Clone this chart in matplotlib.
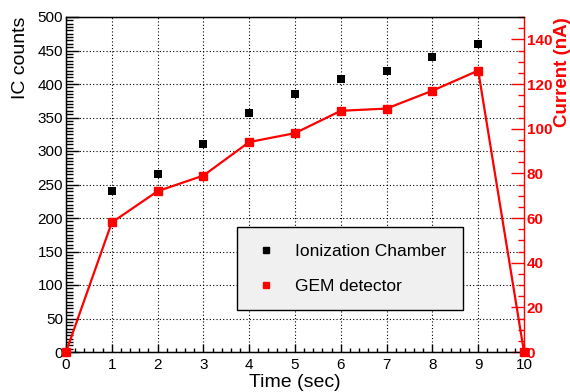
import numpy as np
import matplotlib.pyplot as plt
from matplotlib.ticker import MultipleLocator
from matplotlib.lines import Line2D

plt.rcParams["font.family"] = ["Liberation Sans", "DejaVu Sans"]

# time points and the two measurements
time_ic = [1, 2, 3, 4, 5, 6, 7, 8, 9]
ic_counts = [241, 266, 310, 357, 385, 407, 419, 441, 459]

time_gem = [0, 1, 2, 3, 4, 5, 6, 7, 8, 9, 10]
gem_current = [0, 58, 72, 79, 94, 98, 108, 109, 117, 126, 0]

fig = plt.figure(figsize=(5.7, 3.92), dpi=100)
ax = fig.add_axes([66/570, 1-352/392, (524-66)/570, (352-17)/392])
ax2 = ax.twinx()

ax.scatter(time_ic, ic_counts, marker='s', s=30, color='black', zorder=5, linewidths=0)
ax2.plot(time_gem, gem_current, color='red', lw=1.6, marker='s', ms=6,
         clip_on=False, zorder=5)

ax.set_xlim(0, 10)
ax.set_ylim(0, 500)
ax2.set_ylim(0, 150)

ax.xaxis.set_major_locator(MultipleLocator(1))
ax.xaxis.set_minor_locator(MultipleLocator(0.2))
ax.yaxis.set_major_locator(MultipleLocator(50))
ax.yaxis.set_minor_locator(MultipleLocator(5))
ax2.yaxis.set_major_locator(MultipleLocator(20))
ax2.yaxis.set_minor_locator(MultipleLocator(5))

ax.grid(True, which='major', color='black', linestyle=(0, (1, 2)), lw=0.8)
ax.set_axisbelow(True)

ax.tick_params(axis='x', which='major', direction='in', length=6, width=1,
               labelsize=11, pad=4, top=False)
ax.tick_params(axis='x', which='minor', direction='in', length=3, width=1, top=False)
ax.tick_params(axis='y', which='major', direction='in', length=9.5, width=1,
               labelsize=11, pad=2, right=False)
ax.tick_params(axis='y', which='minor', direction='in', length=5, width=1, right=False)

ax2.tick_params(axis='y', which='major', direction='in', length=9.5, width=1,
                colors='red', labelsize=11, pad=2)
ax2.tick_params(axis='y', which='minor', direction='in', length=4.5, width=1,
                colors='red')
for lab in ax2.get_yticklabels():
    lab.set_fontweight('bold')

for side in ['left', 'bottom', 'top']:
    ax.spines[side].set_color('black')
    ax.spines[side].set_linewidth(1)
ax2.spines['right'].set_color('red')
ax2.spines['right'].set_linewidth(1)
ax.spines['right'].set_visible(False)

ax.set_xlabel('Time (sec)', fontsize=14, labelpad=2)
ax.set_ylabel('IC counts', fontsize=14, loc='top', labelpad=6)
ax2.set_ylabel('Current (nA)', fontsize=13.5, loc='top', color='red',
               fontweight='bold', labelpad=1)

handles = [
    Line2D([], [], ls='none', marker='s', ms=5, color='black'),
    Line2D([], [], ls='none', marker='s', ms=5, color='red'),
]
leg = ax2.legend(handles, ['Ionization Chamber', 'GEM detector'],
                 loc='upper left', bbox_to_anchor=(237/570, 1-227/392),
                 bbox_transform=fig.transFigure, fontsize=12.5,
                 fancybox=False, framealpha=1, edgecolor='black',
                 facecolor='#f0f0f0', borderpad=0.95, labelspacing=1.15,
                 handlelength=1.4, handletextpad=1.0, borderaxespad=0)
leg.get_frame().set_linewidth(1)
leg.set_zorder(10)

fig.savefig('out.png', dpi=100)
